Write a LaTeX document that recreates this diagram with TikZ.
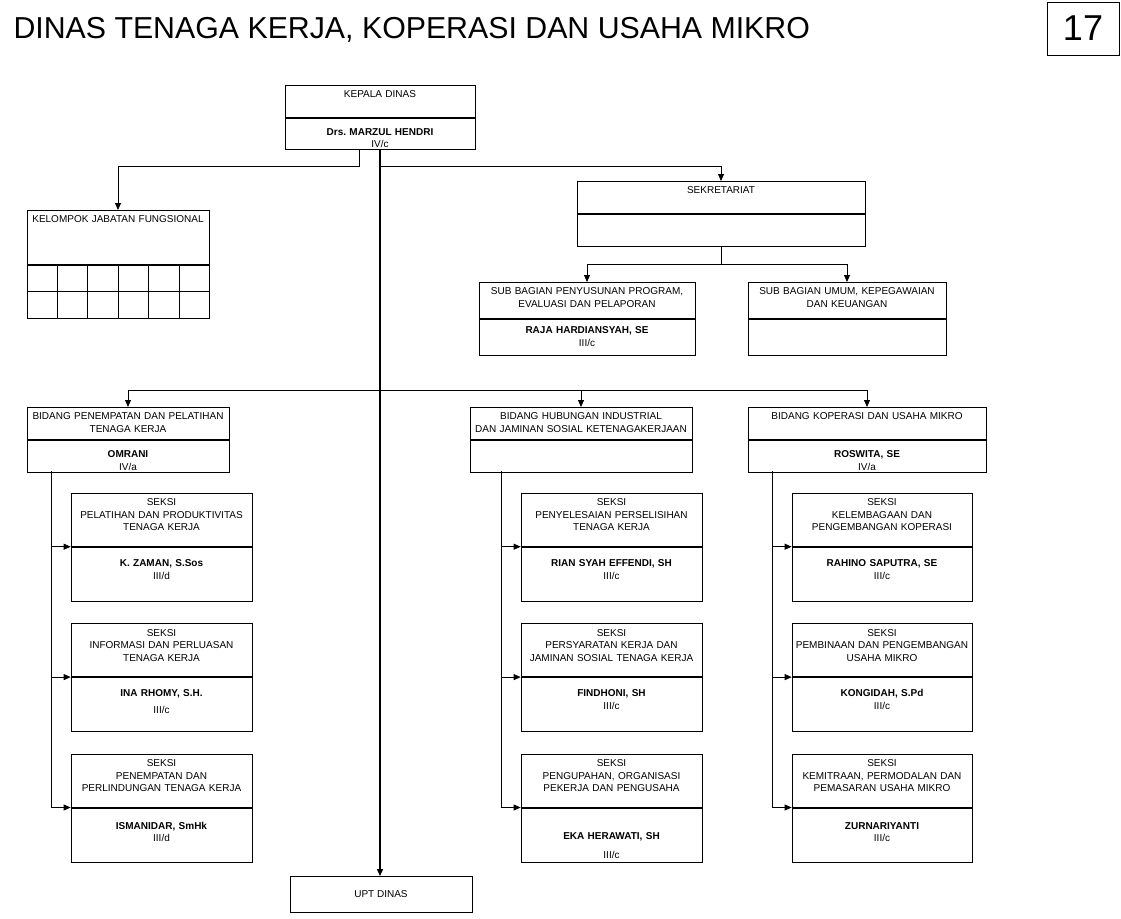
\documentclass[tikz,border=0pt]{standalone}
\usepackage{fontspec}
\setmainfont{Liberation Sans}
\usetikzlibrary{arrows.meta,positioning,calc}

\tikzset{
  box/.style={draw, line width=0.7pt, inner sep=0pt, align=center, font=\fontsize{10}{12.5}\selectfont},
  head/.style={box, anchor=north, text width=#1, text height=12.5pt, text depth=19.5pt},
  body/.style={box, text width=#1, text height=17.5pt, text depth=14.5pt},
  seksihead/.style={head=181pt, text depth=40.5pt},
  seksibody/.style={body=181pt, text height=19.5pt, text depth=34.5pt},
  link/.style={line width=0.8pt},
  arr/.style={link, -{Triangle[length=7pt,width=6pt]}},
  trunk/.style={arr, line width=1.4pt}
}

\begin{document}
\begin{tikzpicture}[x=1pt,y=-1pt]
  \useasboundingbox (0,0) rectangle (1121,918);

  % title and page number
  \node[anchor=base west, font=\fontsize{30.3}{36}\selectfont] (title) at (10,38) {DINAS TENAGA KERJA, KOPERASI DAN USAHA MIKRO};
  \node[draw, line width=0.8pt, minimum width=72pt, minimum height=53pt, font=\fontsize{36}{40}\selectfont] (page) at (1083,28.5) {17};

  % kepala dinas
  \node[head=190pt] (kadis) at (380,85) {KEPALA DINAS};
  \node[body=190pt, text height=17pt, text depth=14pt, below=0pt of kadis] (kadisn) {\textbf{Drs.\ MARZUL HENDRI}\\IV/c};

  % kelompok jabatan fungsional
  \node[head=182pt, text depth=41.5pt] (kjf) at (118,210) {KELOMPOK JABATAN FUNGSIONAL};
  \node[body=182pt, text height=0pt, text depth=53pt, below=0pt of kjf] (kjfg) {};
  \draw[link] (kjfg.west) -- (kjfg.east);
  \foreach \i in {1,...,5}
    \draw[link] ($(kjfg.north west)!\i/6!(kjfg.north east)$) -- ($(kjfg.south west)!\i/6!(kjfg.south east)$);

  % sekretariat
  \node[head=288pt] (sek) at (721,181) {SEKRETARIAT};
  \node[body=288pt, text height=0pt, text depth=32pt, below=0pt of sek] (sekn) {};
  \node[head=216pt, text depth=23.5pt] (subprog) at (587,282) {SUB BAGIAN PENYUSUNAN PROGRAM,\\EVALUASI DAN PELAPORAN};
  \node[body=216pt, text height=14.5pt, text depth=21.5pt, below=0pt of subprog] (subprogn) {\textbf{RAJA HARDIANSYAH, SE}\\III/c};
  \node[head=198pt, text depth=23.5pt] (subumum) at (847,282) {SUB BAGIAN UMUM, KEPEGAWAIAN\\DAN KEUANGAN};
  \node[body=198pt, text height=0pt, text depth=36pt, below=0pt of subumum] (subumumn) {};

  % bidang
  \node[head=202pt] (bid1) at (128,407) {BIDANG PENEMPATAN DAN PELATIHAN\\TENAGA KERJA};
  \node[body=202pt, below=0pt of bid1] (bid1n) {\textbf{OMRANI}\\IV/a};
  \node[head=222pt] (bid2) at (581,407) {BIDANG HUBUNGAN INDUSTRIAL\\DAN JAMINAN SOSIAL KETENAGAKERJAAN};
  \node[body=222pt, text height=0pt, text depth=32pt, below=0pt of bid2] (bid2n) {};
  \node[head=238pt] (bid3) at (867,407) {BIDANG KOPERASI DAN USAHA MIKRO};
  \node[body=238pt, below=0pt of bid3] (bid3n) {\textbf{ROSWITA, SE}\\IV/a};

  % seksi bidang penempatan
  \node[seksihead] (s11) at (161.5,493) {SEKSI\\PELATIHAN DAN PRODUKTIVITAS\\TENAGA KERJA};
  \node[seksibody, below=0pt of s11] (s11n) {\textbf{K. ZAMAN, S.Sos}\\III/d};
  \node[seksihead, below=22pt of s11n] (s12) {SEKSI\\INFORMASI DAN PERLUASAN\\TENAGA KERJA};
  \node[seksibody, below=0pt of s12] (s12n) {\textbf{INA RHOMY, S.H.}\\[4.5pt]III/c};
  \node[seksihead, below=22pt of s12n] (s13) {SEKSI\\PENEMPATAN DAN\\PERLINDUNGAN TENAGA KERJA};
  \node[seksibody, text height=21.5pt, text depth=32.5pt, below=0pt of s13] (s13n) {\textbf{ISMANIDAR, SmHk}\\III/d};

  % seksi bidang hubungan industrial
  \node[seksihead] (s21) at (611.5,493) {SEKSI\\PENYELESAIAN PERSELISIHAN\\TENAGA KERJA};
  \node[seksibody, below=0pt of s21] (s21n) {\textbf{RIAN SYAH EFFENDI, SH}\\III/c};
  \node[seksihead, below=22pt of s21n] (s22) {SEKSI\\PERSYARATAN KERJA DAN\\JAMINAN SOSIAL TENAGA KERJA};
  \node[seksibody, below=0pt of s22] (s22n) {\textbf{FINDHONI, SH}\\III/c};
  \node[seksihead, below=22pt of s22n] (s23) {SEKSI\\PENGUPAHAN, ORGANISASI\\PEKERJA DAN PENGUSAHA};
  \node[seksibody, text height=32pt, text depth=22pt, below=0pt of s23] (s23n) {\textbf{EKA HERAWATI, SH}\\[6.5pt]III/c};

  % seksi bidang koperasi
  \node[seksihead, text width=180pt] (s31) at (882,493) {SEKSI\\KELEMBAGAAN DAN\\PENGEMBANGAN KOPERASI};
  \node[seksibody, text width=180pt, below=0pt of s31] (s31n) {\textbf{RAHINO SAPUTRA, SE}\\III/c};
  \node[seksihead, text width=180pt, below=22pt of s31n] (s32) {SEKSI\\PEMBINAAN DAN PENGEMBANGAN\\USAHA MIKRO};
  \node[seksibody, text width=180pt, below=0pt of s32] (s32n) {\textbf{KONGIDAH, S.Pd}\\III/c};
  \node[seksihead, text width=180pt, below=22pt of s32n] (s33) {SEKSI\\KEMITRAAN, PERMODALAN DAN\\PEMASARAN USAHA MIKRO};
  \node[seksibody, text width=180pt, text height=21.5pt, text depth=32.5pt, below=0pt of s33] (s33n) {\textbf{ZURNARIYANTI}\\III/c};

  % upt
  \node[box, anchor=north, minimum width=182pt, minimum height=36pt] (upt) at (381,876) {UPT DINAS};

  % connectors
  \draw[trunk] (kadisn.south) -- (kadisn.south |- upt.north);
  \draw[arr] ([xshift=-21pt]kadisn.south) -- ++(0,17) -| (kjf.north);
  \draw[arr] ([yshift=-17pt]kadisn.south) -| (sek.north);
  \draw[link] (sekn.south) -- ++(0,18) coordinate (sekfork);
  \foreach \t in {subprog,subumum}
    \draw[arr] (sekfork) -| (\t.north);
  \coordinate (bus) at (380,390);
  \foreach \b in {bid1,bid2,bid3}
    \draw[arr] (bus) -| (\b.north);

  \coordinate (v1) at (51,471);
  \coordinate (v2) at (501,471);
  \coordinate (v3) at (772,471);
  \foreach \c in {1,2,3} {
    \draw[link] (v\c) -- (v\c |- s\c3.south);
    \foreach \r in {1,2,3}
      \draw[arr] (v\c |- s\c\r.south) -- (s\c\r.south west);
  }
\end{tikzpicture}
\end{document}
